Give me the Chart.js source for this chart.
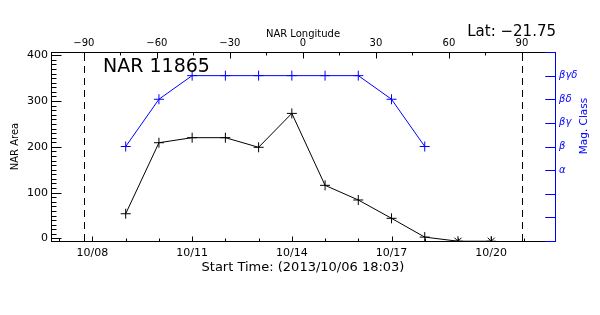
<!DOCTYPE html>
<html>
<head>
<meta charset="utf-8">
<script src="https://cdn.jsdelivr.net/npm/chart.js@4/dist/chart.umd.min.js"></script>
<style>
  html, body { margin: 0; padding: 0; background: #fff; }
  #chart { display: block; }
</style>
</head>
<body>
<canvas id="chart" width="600" height="315"></canvas>
<script>
// NAR 11865 — area and magnetic class over its disk passage.

const BLUE = '#0000ff';

// day of October 2013 (x)
const DAYS = [9, 10, 11, 12, 13, 14, 15, 16, 17, 18, 19, 20];
const AREA = [54, 209, 220, 220, 199, 273, 116, 84, 44, 3, -6, -6];

const MAG_DAYS = [9, 10, 11, 12, 13, 14, 15, 16, 17, 18];
const MAG = [4, 6, 7, 7, 7, 7, 7, 7, 6, 4];          // index into MAG_LABELS
const MAG_TICKS = [0, 1, 2, 3, 4, 5, 6, 7, 8];
const MAG_LABELS = ['', '', '', 'α', 'β', 'βγ', 'βδ', 'βγδ', ''];

const DATE_TICKS = [8, 11, 14, 17, 20];
const DATE_LABELS = ['10/08', '10/11', '10/14', '10/17', '10/20'];
const AREA_TICKS = [0, 100, 200, 300, 400];
const LON_TICKS = [-90, -60, -30, 0, 30, 60, 90];
const LON_LABELS = ['−90', '−60', '−30', '0', '30', '60', '90'];
const LIMB_LON = [-90, 90];

const REGION_TITLE = 'NAR 11865';
const LAT_TEXT = 'Lat: −21.75';
const X_TITLE = 'Start Time: (2013/10/06 18:03)';
const MAG_TITLE = 'Mag. Class';

Chart.defaults.font.family = '"DejaVu Sans", sans-serif';
Chart.defaults.color = '#000';

// IDL-style tick marks pointing into the plot box
const TICK_STYLE = {
  x:  { minor: 1,  minorLen: 3,  majorLen: 5 },
  x2: { minor: 15, minorLen: 3,  majorLen: 6 },
  y:  { minor: 10, minorLen: 5,  majorLen: 10 },
  y2: { minor: 1,  minorLen: 10, majorLen: 10 },
};

const inwardTicks = {
  id: 'inwardTicks',
  afterDraw(chart) {
    const { ctx, chartArea: a } = chart;
    const L = a.left + 0.5, R = a.right + 0.5, T = a.top + 0.5, B = a.bottom + 0.5;
    ctx.save();
    ctx.lineWidth = 1;
    for (const [id, st] of Object.entries(TICK_STYLE)) {
      const s = chart.scales[id];
      ctx.strokeStyle = s.options.border.color;
      const marks = [];
      for (let k = Math.ceil(s.min / st.minor); k * st.minor <= s.max; k++) marks.push([k * st.minor, st.minorLen]);
      s.ticks.forEach(t => marks.push([t.value, st.majorLen]));
      ctx.beginPath();
      for (const [v, len] of marks) {
        const p = Math.round(s.getPixelForValue(v)) + 0.5;
        if (id === 'x') { ctx.moveTo(p, B); ctx.lineTo(p, B - len); }
        else if (id === 'x2') { ctx.moveTo(p, T); ctx.lineTo(p, T + len); }
        else if (id === 'y') { ctx.moveTo(L, p); ctx.lineTo(L + len, p); }
        else { ctx.moveTo(R, p); ctx.lineTo(R - len, p); }
      }
      ctx.stroke();
    }
    ctx.restore();
  },
};

// dashed lines at the solar limb (longitude ±90)
const limbLines = {
  id: 'limbLines',
  beforeDatasetsDraw(chart) {
    const { ctx, chartArea: a, scales: { x2 } } = chart;
    ctx.save();
    ctx.strokeStyle = '#000';
    ctx.lineWidth = 1;
    ctx.setLineDash([7, 5]);
    ctx.beginPath();
    for (const lon of LIMB_LON) {
      const p = Math.round(x2.getPixelForValue(lon)) + 0.5;
      ctx.moveTo(p, a.top + 2);
      ctx.lineTo(p, a.bottom);
    }
    ctx.stroke();
    ctx.restore();
  },
};

const labels = {
  id: 'labels',
  afterDraw(chart) {
    const { ctx, chartArea: a } = chart;
    ctx.save();
    ctx.fillStyle = '#000';
    ctx.textBaseline = 'alphabetic';
    ctx.textAlign = 'left';
    ctx.font = '19px "DejaVu Sans"';
    ctx.fillText(REGION_TITLE, a.left + 52, a.top + 19.5);
    ctx.textAlign = 'right';
    ctx.font = '15px "DejaVu Sans"';
    ctx.fillText(LAT_TEXT, a.right + 1, 36);
    ctx.fillStyle = BLUE;
    ctx.font = '10.5px "DejaVu Sans"';
    ctx.translate(a.right + 29.5, 126);
    ctx.rotate(-Math.PI / 2);
    ctx.textAlign = 'center';
    ctx.textBaseline = 'middle';
    ctx.fillText(MAG_TITLE, 0, 0);
    ctx.restore();
  },
};

const noGrid = { display: false, drawTicks: false };

new Chart(document.getElementById('chart'), {
  type: 'line',
  data: {
    datasets: [
      {
        label: 'NAR Area',
        data: DAYS.map((d, i) => ({ x: d, y: AREA[i] })),
        xAxisID: 'x',
        yAxisID: 'y',
        borderColor: '#000',
        borderWidth: 1,
        pointBorderColor: '#000',
        pointBorderWidth: 1,
        pointRadius: 5,
        pointStyle: c => (c.raw && c.raw.y < 0 ? 'star' : 'cross'),
        tension: 0,
        clip: 0,
      },
      {
        label: 'Mag. Class',
        data: MAG_DAYS.map((d, i) => ({ x: d, y: MAG[i] })),
        xAxisID: 'x',
        yAxisID: 'y2',
        borderColor: BLUE,
        borderWidth: 1,
        pointBorderColor: BLUE,
        pointBorderWidth: 1,
        pointRadius: 5,
        pointStyle: 'cross',
        tension: 0,
        clip: 0,
      },
    ],
  },
  options: {
    responsive: false,
    animation: false,
    devicePixelRatio: 1,
    layout: { padding: 0 },
    plugins: { legend: { display: false }, tooltip: { enabled: false } },
    scales: {
      x: {
        type: 'linear',
        position: 'bottom',
        min: 6.752,
        max: 21.92,
        afterBuildTicks: s => { s.ticks = DATE_TICKS.map(value => ({ value })); },
        afterFit: s => { s.height = 74; },
        grid: noGrid,
        border: { color: '#000' },
        ticks: { padding: 6, maxRotation: 0, autoSkip: false, font: { size: 11 }, callback: (v, i) => DATE_LABELS[i] },
        title: { display: true, text: X_TITLE, font: { size: 13 }, padding: { top: 0, bottom: 40 } },
      },
      x2: {
        type: 'linear',
        position: 'top',
        min: -103.5,
        max: 103.6,
        afterBuildTicks: s => { s.ticks = LON_TICKS.map(value => ({ value })); },
        afterFit: s => { s.height = 52; },
        grid: noGrid,
        border: { color: '#000' },
        ticks: { padding: 2.5, maxRotation: 0, autoSkip: false, font: { size: 10 }, callback: (v, i) => LON_LABELS[i] },
        title: { display: true, text: 'NAR Longitude', font: { size: 10 }, padding: { top: 28.5, bottom: 0 } },
      },
      y: {
        type: 'linear',
        position: 'left',
        min: -5.5,
        max: 407,
        afterBuildTicks: s => { s.ticks = AREA_TICKS.map(value => ({ value })); },
        afterFit: s => { s.width = 51; },
        grid: noGrid,
        border: { color: '#000' },
        ticks: { padding: 3, font: { size: 11 }, callback: v => v },
        title: { display: true, text: 'NAR Area', font: { size: 10 }, padding: { top: 9, bottom: 0 } },
      },
      y2: {
        type: 'linear',
        position: 'right',
        min: 0,
        max: 8,
        afterBuildTicks: s => { s.ticks = MAG_TICKS.map(value => ({ value })); },
        afterFit: s => { s.width = 45; },
        grid: noGrid,
        border: { color: BLUE },
        ticks: { padding: 4, color: BLUE, font: { size: 10, style: 'italic' }, callback: v => MAG_LABELS[v] },
      },
    },
  },
  plugins: [limbLines, inwardTicks, labels],
});
</script>
</body>
</html>
